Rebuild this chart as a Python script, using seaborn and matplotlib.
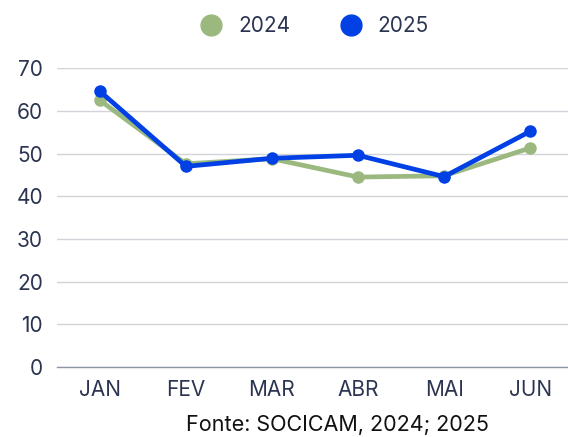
import pandas as pd
import seaborn as sns
from matplotlib import pyplot as plt
from matplotlib.lines import Line2D

meses = ['JAN', 'FEV', 'MAR', 'ABR', 'MAI', 'JUN']
v2024 = [62.5, 47.6, 48.8, 44.5, 44.8, 51.3]
v2025 = [64.6, 47.0, 48.9, 49.6, 44.6, 55.2]

cores = {'2024': '#9bb97f', '2025': '#0040e4'}
txt = '#2b3450'

df = pd.DataFrame({'mes': meses * 2,
                   'valor': v2024 + v2025,
                   'ano': ['2024'] * 6 + ['2025'] * 6})
df['x'] = list(range(6)) * 2

sns.set_theme(style='white')
plt.rcParams['font.family'] = ['Inter', 'DejaVu Sans']

fig = plt.figure(figsize=(5.68, 4.37), dpi=100)
ax = fig.add_axes([0.1, 0.16, 0.9, 0.684])

sns.lineplot(data=df, x='x', y='valor', hue='ano', palette=cores,
             marker='o', markersize=9, markeredgewidth=0, linewidth=3.4,
             legend=False, ax=ax)

ax.set_xlim(-0.5, 5.44)
ax.set_ylim(0, 70)
ax.set_yticks(range(0, 71, 10))
ax.set_xticks(range(6))
ax.set_xticklabels(meses)
ax.yaxis.grid(True, color='#d3d3db', linewidth=1)
ax.set_axisbelow(True)
for s in ['top', 'right', 'left']:
    ax.spines[s].set_visible(False)
ax.spines['bottom'].set_color('#8f97a6')
ax.spines['bottom'].set_linewidth(1)
ax.tick_params(axis='both', length=0, labelsize=15, colors=txt, pad=9)
ax.tick_params(axis='y', pad=10)
ax.set_xlabel('')
ax.set_ylabel('')

handles = [Line2D([], [], linestyle='none', marker='o', markersize=15,
                  color=cores[k], label=k) for k in cores]
fig.legend(handles=handles, loc='center', bbox_to_anchor=(0.545, 0.94), ncol=2,
           frameon=False, fontsize=15, labelcolor=txt, handletextpad=0.3,
           columnspacing=1.9)

fig.text(0.594, 0.005, 'Fonte: SOCICAM, 2024; 2025', ha='center', va='bottom',
         fontsize=15.5, color='#111111')

plt.savefig('out.png', dpi=100)
